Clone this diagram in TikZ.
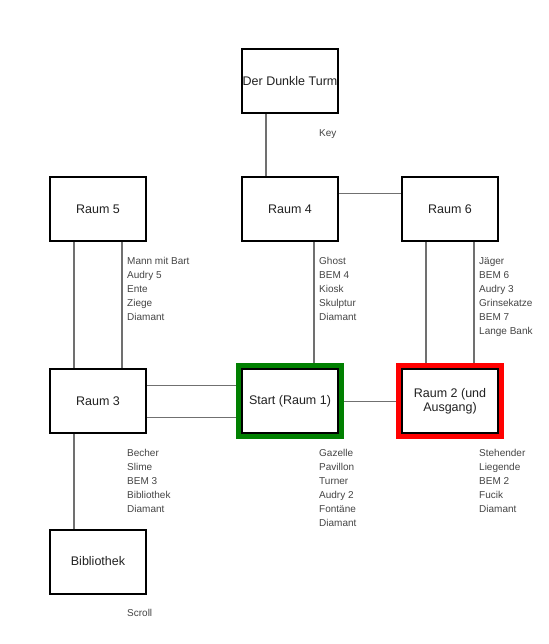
\documentclass[tikz,border=0pt]{standalone}
\usepackage{fontspec}
\setmainfont{Liberation Sans}
\usepackage{xcolor}
\usepackage{tikz}
\usetikzlibrary{positioning,backgrounds}

\definecolor{startgreen}{HTML}{008000}
\definecolor{exitred}{HTML}{FF0000}
\definecolor{wire}{HTML}{707070}
\definecolor{itemtext}{HTML}{444444}

\begin{document}
\begin{tikzpicture}[
    room/.style={rectangle, draw, line width=2pt, fill=white, minimum width=96pt, minimum height=64pt,
        outer sep=0pt, inner sep=0pt, align=center, font=\fontsize{12.5}{14}\selectfont, text=black!87},
    start/.style={room, preaction={draw=startgreen, line width=12pt}},
    exit/.style={room, preaction={draw=exitred, line width=12pt}},
    items/.style={inner sep=0pt, align=left, font=\fontsize{10}{14}\selectfont, text=itemtext},
    link/.style={draw=wire, line width=1.3pt}
]
    \useasboundingbox (-98pt,-242.5pt) rectangle (450pt,401.5pt);

    % Rooms
    \node[room] (R3) at (0,0) {Raum 3};
    \node[start, right=96pt of R3] (S) {Start (Raum 1)};
    \node[exit, right=64pt of S] (R2) {Raum 2 (und\\Ausgang)};
    \node[room, above=128pt of R3] (R5) {Raum 5};
    \node[room, above=128pt of S] (R4) {Raum 4};
    \node[room, above=128pt of R2] (R6) {Raum 6};
    \node[room, above=64pt of R4] (T) {Der Dunkle Turm};
    \node[room, below=96pt of R3] (B) {Bibliothek};

    % Connections
    \begin{scope}[on background layer]
        \draw[link] ([xshift=-24pt]T.south) -- ([xshift=-24pt]R4.north);
        \draw[link] ([yshift=16pt]R4.east) -- ([yshift=16pt]R6.west);
        \draw[link] ([xshift=-24pt]R5.south) -- ([xshift=-24pt]R3.north);
        \draw[link] ([xshift=24pt]R5.south) -- ([xshift=24pt]R3.north);
        \draw[link] ([xshift=24pt]R4.south) -- ([xshift=24pt]S.north);
        \draw[link] ([xshift=-24pt]R6.south) -- ([xshift=-24pt]R2.north);
        \draw[link] ([xshift=24pt]R6.south) -- ([xshift=24pt]R2.north);
        \draw[link] ([yshift=16pt]R3.east) -- ([yshift=16pt]S.west);
        \draw[link] ([yshift=-16pt]R3.east) -- ([yshift=-16pt]S.west);
        \draw[link] (S.east) -- (R2.west);
        \draw[link] ([xshift=-24pt]R3.south) -- ([xshift=-24pt]B.north);
    \end{scope}

    % Items
    \node[items, below right=16pt and 29pt of T.south] (keyT) {Key};
    \node[items, below right=16pt and 29pt of R5.south] (itemsR5) {Mann mit Bart\\Audry 5\\Ente\\Ziege\\Diamant};
    \node[items, below right=16pt and 29pt of R4.south] (itemsR4) {Ghost\\BEM 4\\Kiosk\\Skulptur\\Diamant};
    \node[items, below right=16pt and 29pt of R6.south] (itemsR6) {Jäger\\BEM 6\\Audry 3\\Grinsekatze\\BEM 7\\Lange Bank};
    \node[items, below right=16pt and 29pt of R3.south] (itemsR3) {Becher\\Slime\\BEM 3\\Bibliothek\\Diamant};
    \node[items, below right=16pt and 29pt of S.south] (itemsS) {Gazelle\\Pavillon\\Turner\\Audry 2\\Fontäne\\Diamant};
    \node[items, below right=16pt and 29pt of R2.south] (itemsR2) {Stehender\\Liegende\\BEM 2\\Fucik\\Diamant};
    \node[items, below right=16pt and 29pt of B.south] (scrollB) {Scroll};
\end{tikzpicture}
\end{document}
